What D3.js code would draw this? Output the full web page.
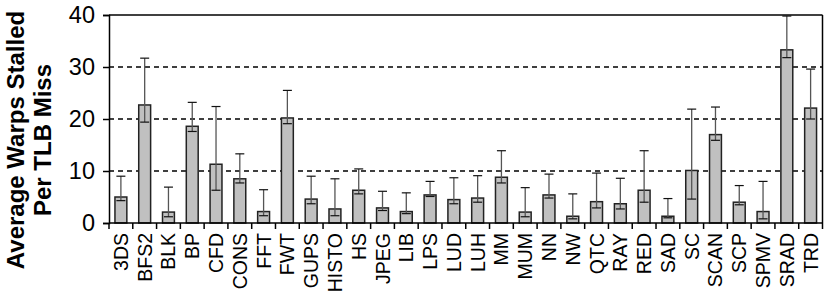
<!DOCTYPE html>
<html>
<head>
<meta charset="utf-8">
<script src="https://cdn.jsdelivr.net/npm/d3@7"></script>
<style>
  body { margin: 0; background: #fff; }
  svg { display: block; font-family: "Liberation Sans", Arial, sans-serif; }
</style>
</head>
<body>
<script>
// benchmark names
var categories = ["3DS","BFS2","BLK","BP","CFD","CONS","FFT","FWT","GUPS","HISTO",
                  "HS","JPEG","LIB","LPS","LUD","LUH","MM","MUM","NN","NW",
                  "QTC","RAY","RED","SAD","SC","SCAN","SCP","SPMV","SRAD","TRD"];
// mean warps stalled per TLB miss
var values = [5.0, 22.7, 2.1, 18.6, 11.3, 8.5, 2.2, 20.2, 4.6, 2.7,
              6.3, 2.9, 2.2, 5.4, 4.5, 4.8, 8.8, 2.1, 5.4, 1.3,
              4.1, 3.7, 6.3, 1.3, 10.1, 17.0, 4.0, 2.2, 33.3, 22.1];
// error bar ends
var errHigh = [9.0, 31.7, 6.9, 23.2, 22.4, 13.3, 6.4, 25.5, 9.0, 8.5,
               10.4, 6.1, 5.8, 8.0, 8.7, 9.1, 13.9, 6.8, 9.4, 5.6,
               9.6, 8.6, 13.9, 4.7, 21.9, 22.3, 7.2, 8.0, 39.8, 29.6];
var errLow = [4.3, 19.4, 1.2, 17.6, 6.3, 7.7, 1.4, 19.1, 3.7, 1.4,
              5.6, 2.4, 1.8, 5.1, 3.7, 4.0, 7.7, 1.2, 4.8, 0.8,
              2.9, 2.7, 4.0, 1.0, 4.6, 15.9, 3.5, 0.8, 31.8, 20.0];
var yTicks = [0, 10, 20, 30, 40];

var width = 830, height = 304;
var pLeft = 109, pRight = 822.5, pTop = 15, pBottom = 223;

var svg = d3.select("body").append("svg")
    .attr("width", width)
    .attr("height", height);

var x = d3.scaleBand()
    .domain(categories)
    .range([pLeft, pRight])
    .paddingInner(0.5)
    .paddingOuter(0.25);

var y = d3.scaleLinear()
    .domain([0, 40])
    .range([pBottom, pTop]);

// dashed grid lines
svg.selectAll("line.grid")
    .data([10, 20, 30])
    .enter().append("line")
    .attr("class", "grid")
    .attr("x1", pLeft).attr("x2", pRight)
    .attr("y1", function(d) { return y(d); })
    .attr("y2", function(d) { return y(d); })
    .attr("stroke", "#000")
    .attr("stroke-width", 1.3)
    .attr("stroke-dasharray", "5,4");

// frame top + right
svg.append("line")
    .attr("x1", pLeft).attr("x2", pRight)
    .attr("y1", y(40)).attr("y2", y(40))
    .attr("stroke", "#000").attr("stroke-width", 1.5);
svg.append("line")
    .attr("x1", pRight).attr("x2", pRight)
    .attr("y1", y(40)).attr("y2", y(0))
    .attr("stroke", "#000").attr("stroke-width", 1.5);

// bars
svg.selectAll("rect.bar")
    .data(values)
    .enter().append("rect")
    .attr("class", "bar")
    .attr("x", function(d, i) { return x(categories[i]); })
    .attr("y", function(d) { return y(d); })
    .attr("width", x.bandwidth())
    .attr("height", function(d) { return y(0) - y(d); })
    .attr("fill", "#c0c0c0")
    .attr("stroke", "#222")
    .attr("stroke-width", 1.5);

// error bars
var err = svg.selectAll("g.err")
    .data(values)
    .enter().append("g")
    .attr("class", "err")
    .attr("transform", function(d, i) {
        return "translate(" + (x(categories[i]) + x.bandwidth() / 2) + ",0)";
    });

err.append("line")
    .attr("x1", 0).attr("x2", 0)
    .attr("y1", function(d, i) { return y(errLow[i]); })
    .attr("y2", function(d, i) { return y(errHigh[i]); })
    .attr("stroke", "#555")
    .attr("stroke-width", 1.3);

err.append("line")
    .attr("x1", -4.5).attr("x2", 4.5)
    .attr("y1", function(d, i) { return y(errHigh[i]); })
    .attr("y2", function(d, i) { return y(errHigh[i]); })
    .attr("stroke", "#111")
    .attr("stroke-width", 1.2);

err.append("line")
    .attr("x1", -4.5).attr("x2", 4.5)
    .attr("y1", function(d, i) { return y(errLow[i]); })
    .attr("y2", function(d, i) { return y(errLow[i]); })
    .attr("stroke", "#111")
    .attr("stroke-width", 1.2);

// y axis
var yAxis = svg.append("g")
    .attr("transform", "translate(" + pLeft + ",0)")
    .call(d3.axisLeft(y).tickValues(yTicks).tickSize(6).tickPadding(8));
yAxis.select(".domain").attr("stroke", "#000").attr("stroke-width", 1.5);
yAxis.selectAll(".tick line").attr("stroke", "#000").attr("stroke-width", 1.5);
yAxis.selectAll("text")
    .attr("font-size", "23.5px")
    .attr("font-family", "Liberation Sans, Arial, sans-serif")
    .attr("fill", "#000");

// x axis: ticks between bars
var bounds = d3.range(categories.length + 1).map(function(i) {
    return pLeft + i * x.step();
});
svg.append("line")
    .attr("x1", pLeft).attr("x2", pRight)
    .attr("y1", pBottom).attr("y2", pBottom)
    .attr("stroke", "#000").attr("stroke-width", 1.5);
svg.selectAll("line.xtick")
    .data(bounds)
    .enter().append("line")
    .attr("class", "xtick")
    .attr("x1", function(d) { return d; })
    .attr("x2", function(d) { return d; })
    .attr("y1", pBottom).attr("y2", pBottom + 6)
    .attr("stroke", "#000").attr("stroke-width", 1.5);

svg.selectAll("text.xlab")
    .data(categories)
    .enter().append("text")
    .attr("class", "xlab")
    .attr("transform", function(d) {
        return "translate(" + (x(d) + x.bandwidth() / 2 + 7) + "," + (pBottom + 10) + ") rotate(-90)";
    })
    .attr("text-anchor", "end")
    .attr("font-size", "19.5px")
    .attr("fill", "#000")
    .text(function(d) { return d; });

// y title
var title = svg.append("text")
    .attr("transform", "translate(16,140) rotate(-90)")
    .attr("text-anchor", "middle")
    .attr("font-size", "24px")
    .attr("font-weight", "bold")
    .attr("fill", "#000");
title.append("tspan").attr("x", 0).attr("dy", "0.35em").text("Average Warps Stalled");
title.append("tspan").attr("x", 0).attr("dy", "1.1em").text("Per TLB Miss");
</script>
</body>
</html>
